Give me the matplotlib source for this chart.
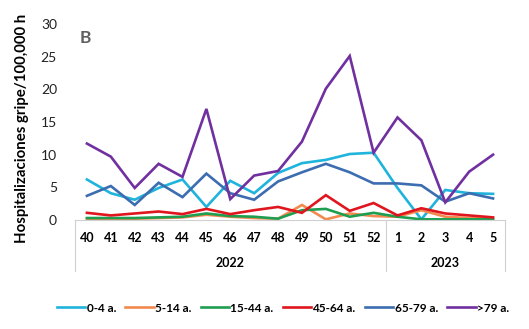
import matplotlib
matplotlib.use("Agg")
import matplotlib.pyplot as plt
import matplotlib.transforms as mtransforms

plt.rcParams['font.family'] = ['Lato', 'DejaVu Sans']

weeks = ["40", "41", "42", "43", "44", "45", "46", "47", "48", "49", "50", "51", "52",
         "1", "2", "3", "4", "5"]
years = ["2022", "2023"]
year_counts = [13, 5]

s_0_4 = [6.2, 4.1, 3.1, 4.9, 6.2, 2.0, 6.0, 4.1, 7.2, 8.7, 9.2, 10.1, 10.3, 4.9, 0.1, 4.6, 4.1, 4.0]
s_5_14 = [0.2, 0.2, 0.2, 0.3, 0.4, 0.8, 0.5, 0.3, 0.2, 2.3, 0.1, 1.0, 0.6, 0.5, 1.5, 0.5, 0.3, 0.2]
s_15_44 = [0.3, 0.3, 0.3, 0.4, 0.5, 1.0, 0.6, 0.5, 0.2, 1.5, 1.7, 0.5, 1.1, 0.5, 0.1, 0.1, 0.1, 0.1]
s_45_64 = [1.1, 0.7, 1.0, 1.3, 0.9, 1.7, 0.9, 1.5, 2.0, 1.1, 3.8, 1.4, 2.6, 0.7, 1.8, 1.0, 0.7, 0.4]
s_65_79 = [3.7, 5.2, 2.3, 5.7, 3.5, 7.1, 4.1, 3.1, 5.9, 7.3, 8.6, 7.3, 5.6, 5.6, 5.3, 2.8, 4.1, 3.3]
s_79 = [11.7, 9.7, 4.9, 8.6, 6.6, 17.0, 3.2, 6.8, 7.5, 12.0, 20.1, 25.1, 10.3, 15.7, 12.2, 2.7, 7.4, 10.0]

series = [("0-4 a.", s_0_4, "#1fb4dc"),
          ("5-14 a.", s_5_14, "#f28a4f"),
          ("15-44 a.", s_15_44, "#1e9e50"),
          ("45-64 a.", s_45_64, "#e0161e"),
          ("65-79 a.", s_65_79, "#3c6db0"),
          (">79 a.", s_79, "#7030a0")]

fig = plt.figure(figsize=(5.29, 3.29), dpi=100)
ax = fig.add_axes([75/529, 1 - 220/329, 430/529, 196/329])

x = list(range(len(weeks)))
for name, vals, col in series:
    ax.plot(x, vals, color=col, lw=1.9, label=name, solid_joinstyle='miter')

ax.set_xlim(-0.5, len(weeks) - 0.5)
ax.set_ylim(0, 30)
ax.set_yticks([0, 5, 10, 15, 20, 25, 30])
ax.tick_params(axis='y', length=0, labelsize=10, pad=13, colors='#222222')
ax.set_xticks(x)
ax.set_xticklabels(weeks, fontweight='bold', fontsize=9)
ax.tick_params(axis='x', length=0, pad=9)
for s in ['left', 'right', 'top']:
    ax.spines[s].set_visible(False)
ax.spines['bottom'].set_color('#d0d0d0')
ax.spines['bottom'].set_linewidth(0.8)

# category group boxes
trans = mtransforms.blended_transform_factory(ax.transData, ax.transAxes)
bounds = [-0.5]
for c in year_counts:
    bounds.append(bounds[-1] + c)
for b in bounds:
    ax.plot([b, b], [0, -0.26], transform=trans, color='#d0d0d0', lw=0.8, clip_on=False)
for i, yr in enumerate(years):
    ax.text((bounds[i] + bounds[i + 1]) / 2, -0.22, yr, transform=trans,
            ha='center', va='center', fontweight='bold', fontsize=9)

ax.set_ylabel("Hospitalizaciones gripe/100,000 h", fontweight='bold', fontsize=10.8, labelpad=7)
ax.yaxis.set_label_coords(-0.107, 0.47)
ax.text(0.01, 0.97, "B", transform=ax.transAxes, fontsize=12.5, fontweight='bold',
        color='#606060', ha='left', va='top')

leg = fig.legend(loc='center', bbox_to_anchor=(283/529, 1 - 308/329), ncol=6, frameon=False,
                 handlelength=2.4, handletextpad=0.1, columnspacing=0.8,
                 prop={'weight': 'bold', 'size': 8.5})

fig.savefig("out.png", dpi=100)
